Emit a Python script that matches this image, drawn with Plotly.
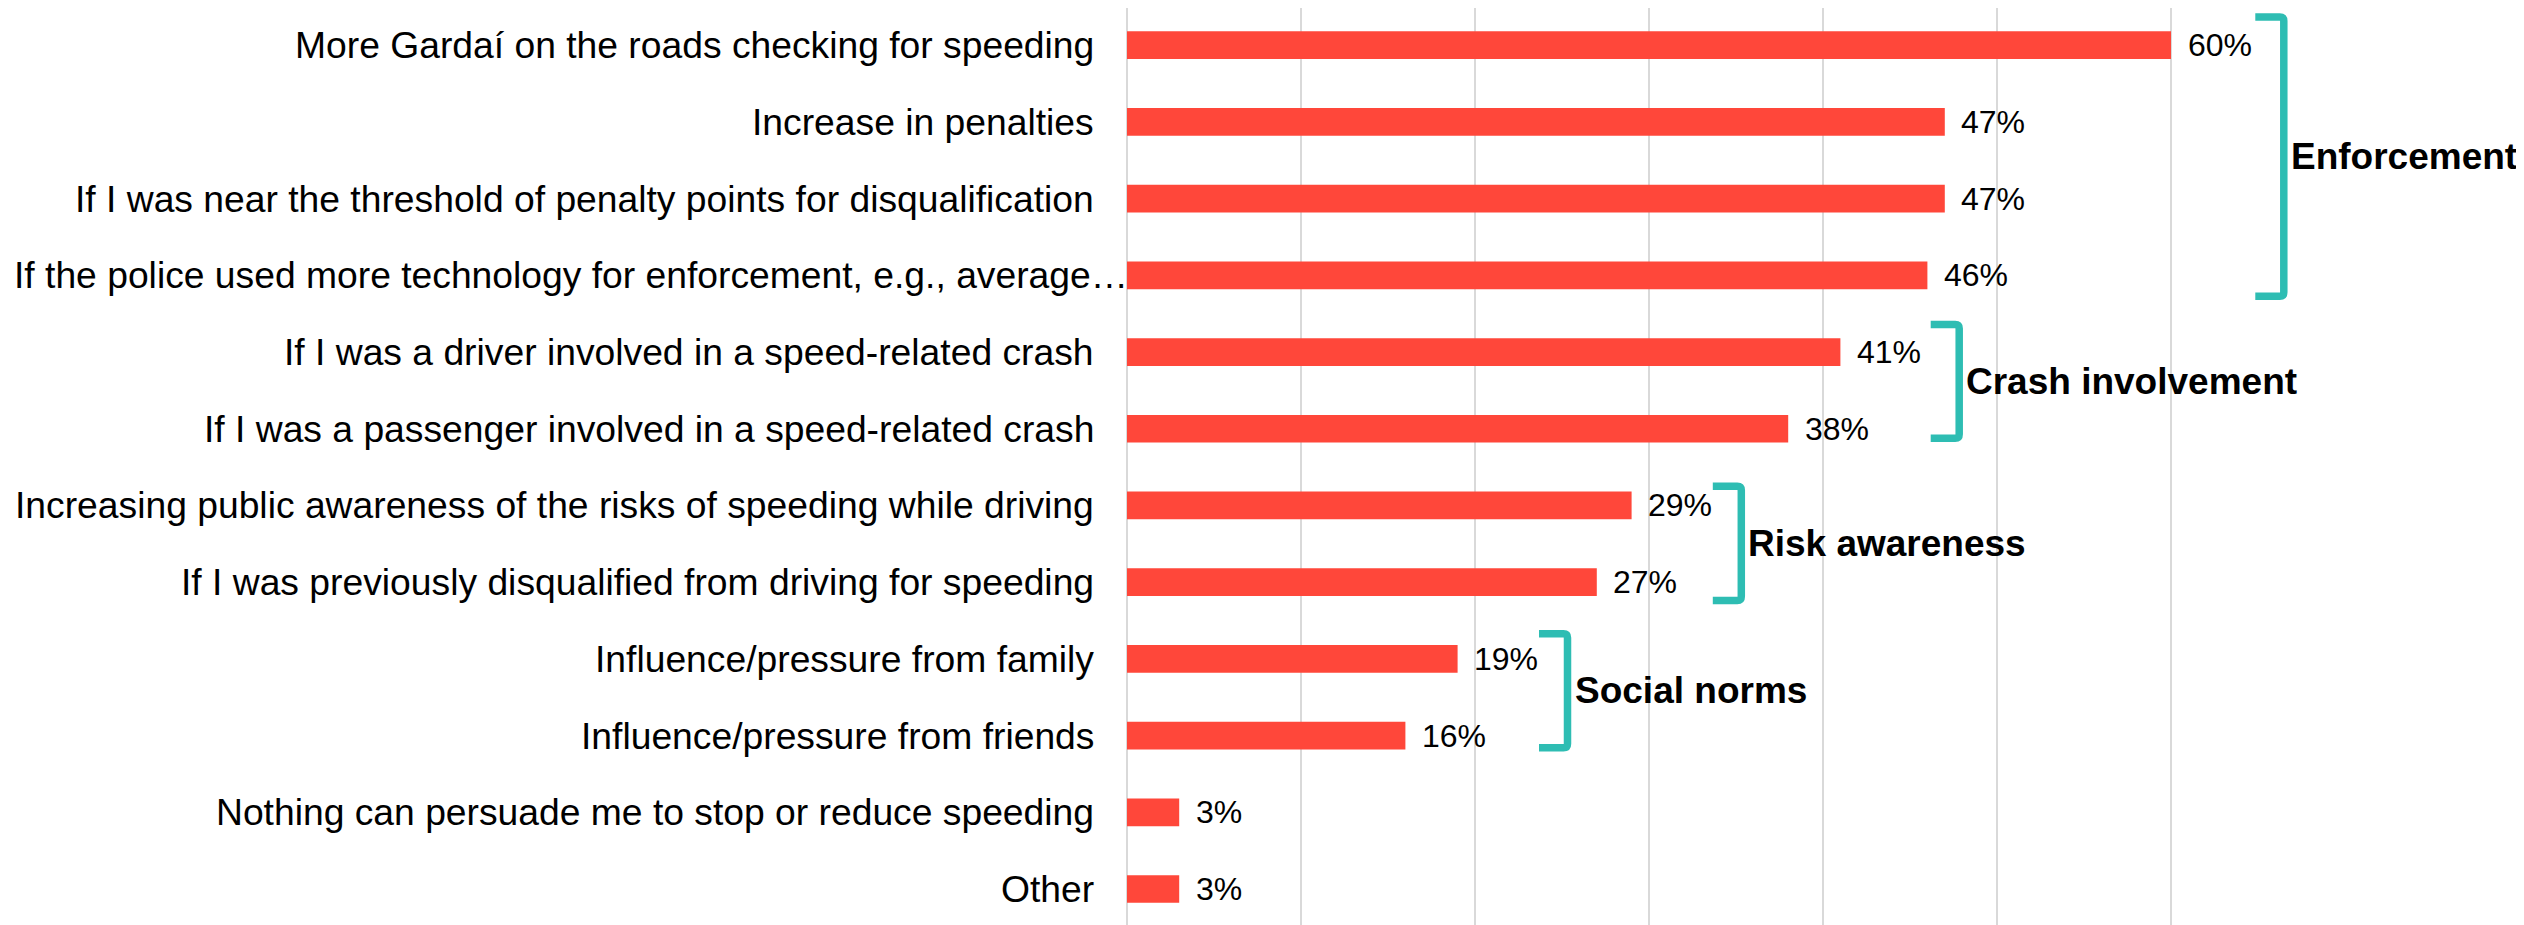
import plotly.graph_objects as go

# ---------------- data ----------------
categories = [
    "More Gardaí on the roads checking for speeding",
    "Increase in penalties",
    "If I was near the threshold of penalty points for disqualification",
    "If the police used more technology for enforcement, e.g., average…",
    "If I was a driver involved in a speed-related crash",
    "If I was a passenger involved in a speed-related crash",
    "Increasing public awareness of the risks of speeding while driving",
    "If I was previously disqualified from driving for speeding",
    "Influence/pressure from family",
    "Influence/pressure from friends",
    "Nothing can persuade me to stop or reduce speeding",
    "Other",
]
values = [0.60, 0.47, 0.47, 0.46, 0.41, 0.38, 0.29, 0.27, 0.19, 0.16, 0.03, 0.03]

group_names = ["Enforcement", "Crash involvement", "Risk awareness", "Social norms"]
group_first_row = [0, 4, 6, 8]
group_last_row = [3, 5, 7, 9]

# ---------------- layout / style ----------------
# the page body has an 8px margin, so the figure is 8px smaller than the window
W, H = 2516, 917
M_L, M_R, M_T, M_B = 1119, 179, 0, 0
X_RANGE = [0, 0.7]
Y_RANGE = [11.469, -0.485]
FONT = "Liberation Sans, Arial, sans-serif"
BAR_COLOR = "#FF473A"
BRACKET_COLOR = "#2EBDB3"
GRID_COLOR = "#D9D9D9"

# bracket geometry in pixels (relative to group rows / longest bar)
bracket_top_px = [-28.2, -27.5, -19.2, -25.2]
bracket_bottom_px = [21.0, 9.6, 18.3, 12.2]
bracket_x_px = [112.8, 118.8, 109.7, 109.9]
tick_len_px = 28.5
corner_px = 4.0
bracket_width = 7.5

plot_w = W - M_L - M_R
plot_h = H - M_T - M_B
px_x = plot_w / (X_RANGE[1] - X_RANGE[0])
px_y = plot_h / abs(Y_RANGE[0] - Y_RANGE[1])

fig = go.Figure()
fig.add_trace(go.Bar(
    x=values,
    y=list(range(len(categories))),
    orientation="h",
    width=0.361,
    marker=dict(color=BAR_COLOR, line=dict(width=0)),
    hoverinfo="skip",
    showlegend=False,
))

annotations = []
# category labels
for i, c in enumerate(categories):
    annotations.append(dict(
        x=0, y=i, xref="x", yref="y", text=c, showarrow=False,
        xanchor="right", yanchor="middle",
        xshift=2.5 if c.endswith("…") else -31.5,
        font=dict(family=FONT, size=37.25, color="#000000"),
    ))
# value labels
for i, v in enumerate(values):
    annotations.append(dict(
        x=v, y=i, xref="x", yref="y", text=f"{round(v*100)}%", showarrow=False,
        xanchor="left", yanchor="middle", xshift=14.5,
        font=dict(family=FONT, size=32, color="#000000"),
    ))

shapes = []
for g, name in enumerate(group_names):
    a, b = group_first_row[g], group_last_row[g]
    vmax = max(values[a:b + 1])
    xv = vmax + bracket_x_px[g] / px_x
    left = xv - tick_len_px / px_x
    top = a + bracket_top_px[g] / px_y
    bot = b + bracket_bottom_px[g] / px_y
    rx = corner_px / px_x
    ry = corner_px / px_y
    path = (f"M {left},{top} L {xv - rx},{top} Q {xv},{top} {xv},{top + ry} "
            f"L {xv},{bot - ry} Q {xv},{bot} {xv - rx},{bot} L {left},{bot}")
    shapes.append(dict(type="path", path=path, xref="x", yref="y",
                       line=dict(color=BRACKET_COLOR, width=bracket_width)))
    annotations.append(dict(
        x=xv, y=(top + bot) / 2, xref="x", yref="y", text=f"<b>{name}</b>",
        showarrow=False, xanchor="left", yanchor="middle", xshift=5,
        font=dict(family=FONT, size=37, color="#000000"),
    ))

fig.update_layout(
    width=W, height=H,
    margin=dict(l=M_L, r=M_R, t=M_T, b=M_B, pad=0, autoexpand=False),
    paper_bgcolor="white", plot_bgcolor="white",
    annotations=annotations, shapes=shapes,
    xaxis=dict(range=X_RANGE, dtick=0.1, tick0=0, showticklabels=False,
               showgrid=True, gridcolor=GRID_COLOR, gridwidth=2,
               zeroline=True, zerolinecolor=GRID_COLOR, zerolinewidth=2,
               showline=False, fixedrange=True),
    yaxis=dict(range=Y_RANGE, showticklabels=False, showgrid=False,
               zeroline=False, showline=False, fixedrange=True),
    font=dict(family=FONT),
)

fig.write_html("out.html", config={"displayModeBar": False})
